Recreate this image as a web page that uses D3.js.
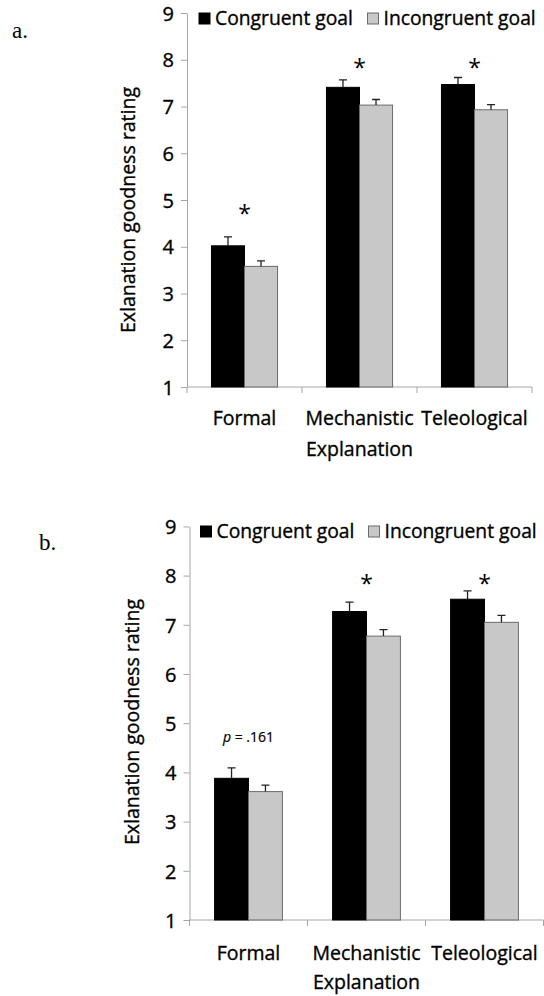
<!DOCTYPE html>
<html lang="en">
<head>
<meta charset="UTF-8">
<title>Explanation goodness rating</title>
<style>
  html, body { margin: 0; padding: 0; background: #fff; }
  svg { display: block; font-family: 'Open Sans', sans-serif; }
  .lbl { fill: #000; stroke: #000; stroke-width: 0.35px; }
</style>
</head>
<body>
<svg id="chart" width="544" height="996"></svg>
<script src="https://d3js.org/d3.v7.min.js"></script>
<script>
// data
const categories = ['Formal', 'Mechanistic', 'Teleological'];
const seriesNames = ['Congruent goal', 'Incongruent goal'];
const yTicks = [1, 2, 3, 4, 5, 6, 7, 8, 9];

const congruentA = [4.02, 7.41, 7.47];
const congruentErrA = [0.19, 0.16, 0.15];
const incongruentA = [3.58, 7.03, 6.93];
const incongruentErrA = [0.12, 0.12, 0.11];
const notesA = ['*', '*', '*'];
const noteLevelsA = [4.82, 7.96, 7.96];

const congruentB = [3.88, 7.27, 7.52];
const congruentErrB = [0.21, 0.19, 0.17];
const incongruentB = [3.61, 6.77, 7.05];
const incongruentErrB = [0.13, 0.13, 0.14];
const notesB = ['p = .161', '*', '*'];
const noteLevelsB = [4.62, 7.96, 7.96];

const colors = ['#000000', '#c8c8c8'];
const strokes = ['#000000', '#6b6b6b'];

const svg = d3.select('#chart');

function drawPanel(opt) {
  const g = svg.append('g');

  const y = d3.scaleLinear().domain([1, 9]).range([opt.bottom, opt.top]);
  const x = d3.scaleBand().domain(categories).range([opt.left, opt.right]).padding(0);
  const xs = d3.scaleBand().domain(seriesNames).range([0, x.bandwidth()])
      .paddingInner(0).paddingOuter(0.74);

  // y axis
  const yAxis = g.append('g')
      .attr('transform', `translate(${opt.left},0)`)
      .call(d3.axisLeft(y).tickValues(yTicks).tickSize(6).tickSizeOuter(0).tickPadding(7));
  yAxis.select('.domain').attr('stroke', '#a6a6a6');
  yAxis.selectAll('.tick line').attr('stroke', '#a6a6a6');
  yAxis.selectAll('.tick text')
      .attr('class', 'lbl')
      .attr('dy', '0.36em')
      .style('font-size', '20px')
      .style('font-family', "'Open Sans', sans-serif");

  // x axis: line with ticks at category boundaries
  g.append('line')
      .attr('x1', opt.left).attr('x2', opt.right)
      .attr('y1', y(1)).attr('y2', y(1))
      .attr('stroke', '#a6a6a6');
  const bounds = categories.map(c => x(c)).concat([x(categories[categories.length - 1]) + x.bandwidth()]);
  g.selectAll('.xtick').data(bounds).enter().append('line')
      .attr('x1', d => d).attr('x2', d => d)
      .attr('y1', y(1)).attr('y2', y(1) + 6)
      .attr('stroke', '#a6a6a6');
  g.selectAll('.xlabel').data(categories).enter().append('text')
      .attr('class', 'lbl')
      .attr('x', d => x(d) + x.bandwidth() / 2)
      .attr('y', y(1) + opt.labelGap)
      .attr('text-anchor', 'middle')
      .style('font-size', '19.5px')
      .text(d => d);
  g.append('text')
      .attr('class', 'lbl')
      .attr('x', x(categories[1]) + x.bandwidth() / 2)
      .attr('y', y(1) + opt.labelGap + opt.titleGap)
      .attr('text-anchor', 'middle')
      .style('font-size', '19.5px')
      .text('Explanation');

  // y title
  g.append('text')
      .attr('class', 'lbl')
      .attr('transform', `translate(${opt.yTitleX},${opt.yTitleY}) rotate(-90)`)
      .attr('text-anchor', 'middle')
      .style('font-size', '19.5px')
      .text('Exlanation goodness rating');

  // bars
  const rows = categories.map((c, i) => ({
    cat: c,
    vals: [
      { s: seriesNames[0], v: opt.cong[i], e: opt.congErr[i], k: 0 },
      { s: seriesNames[1], v: opt.incong[i], e: opt.incongErr[i], k: 1 }
    ]
  }));
  const groups = g.selectAll('.grp').data(rows).enter().append('g')
      .attr('transform', d => `translate(${x(d.cat)},0)`);
  groups.selectAll('rect').data(d => d.vals).enter().append('rect')
      .attr('x', d => xs(d.s))
      .attr('y', d => y(d.v))
      .attr('width', xs.bandwidth())
      .attr('height', d => y(1) - y(d.v))
      .attr('fill', d => colors[d.k])
      .attr('stroke', d => strokes[d.k])
      .attr('stroke-width', 1);
  // error bars (upper only)
  groups.selectAll('.err').data(d => d.vals).enter().append('path')
      .attr('d', d => {
        const cx = xs(d.s) + xs.bandwidth() / 2;
        return `M${cx},${y(d.v)}V${y(d.v + d.e)}M${cx - 4},${y(d.v + d.e)}H${cx + 4}`;
      })
      .attr('fill', 'none')
      .attr('stroke', '#222')
      .attr('stroke-width', 1.3);

  // significance notes
  categories.forEach((c, i) => {
    const t = g.append('text')
        .attr('x', x(c) + x.bandwidth() / 2)
        .attr('text-anchor', 'middle')
        .attr('fill', '#000');
    if (opt.notes[i] === '*') {
      t.attr('y', y(opt.noteLevels[i]) + 14)
        .style('font-size', '23px')
        .style('font-family', "'Open Sans', sans-serif")
        .text('*');
    } else {
      t.attr('class', 'lbl')
        .attr('y', y(opt.noteLevels[i]))
        .style('font-size', '14px')
        .style('stroke-width', '0.2px');
      const parts = opt.notes[i].split(' = ');
      t.append('tspan').style('font-style', 'italic').text(parts[0]);
      t.append('tspan').text(' = ' + parts[1]);
    }
  });

  // legend
  const leg = g.append('g');
  opt.legend.forEach((lx, k) => {
    leg.append('rect')
        .attr('x', lx).attr('y', opt.legendY - 12)
        .attr('width', 11).attr('height', 11)
        .attr('fill', colors[k])
        .attr('stroke', strokes[k]);
    leg.append('text')
        .attr('class', 'lbl')
        .attr('x', lx + 16).attr('y', opt.legendY)
        .style('font-size', '19.3px')
        .text(seriesNames[k]);
  });

  // panel letter
  svg.append('text')
      .attr('x', opt.letter[0]).attr('y', opt.letter[1])
      .style('font-family', "'Liberation Serif', 'Times New Roman', serif")
      .style('font-size', '23px')
      .text(opt.letter[2]);
}

drawPanel({
  left: 187, right: 532, top: 13, bottom: 387,
  labelGap: 38, titleGap: 31, yTitleX: 135, yTitleY: 210,
  cong: congruentA, congErr: congruentErrA,
  incong: incongruentA, incongErr: incongruentErrA,
  notes: notesA, noteLevels: noteLevelsA,
  legend: [199, 367.5], legendY: 25,
  letter: [12, 38, 'a.']
});

drawPanel({
  left: 189.5, right: 543.5, top: 526.4, bottom: 920,
  labelGap: 40, titleGap: 29, yTitleX: 139, yTitleY: 722,
  cong: congruentB, congErr: congruentErrB,
  incong: incongruentB, incongErr: incongruentErrB,
  notes: notesB, noteLevels: noteLevelsB,
  legend: [200.5, 368.5], legendY: 538,
  letter: [39, 550, 'b.']
});
</script>
</body>
</html>
